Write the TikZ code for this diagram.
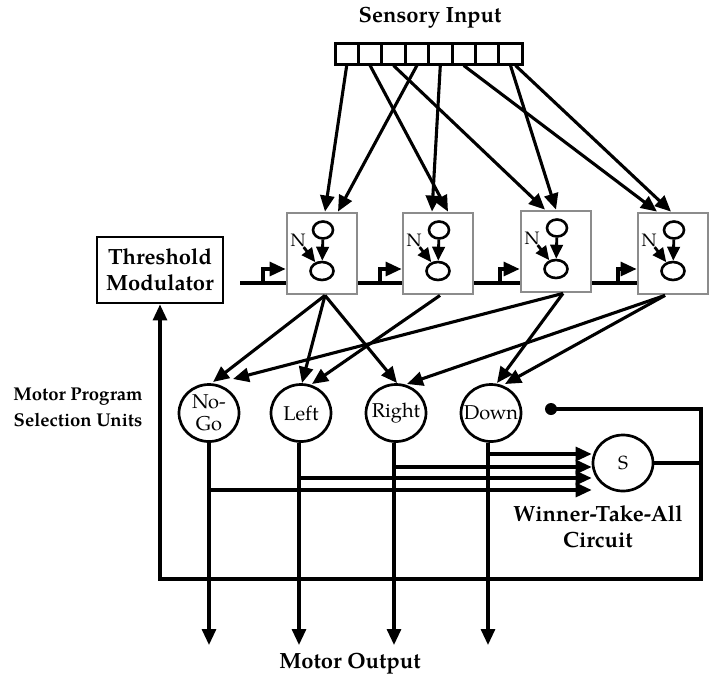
\documentclass[tikz,border=0pt]{standalone}
\usepackage{fontspec}
\setmainfont{TeX Gyre Pagella}
\usetikzlibrary{arrows.meta,shapes.geometric}
\definecolor{boxgray}{RGB}{140,140,140}
\begin{document}
\begin{tikzpicture}[x=1pt,y=-1pt,
  wire/.style={line width=3.1pt},
  arr/.style={line width=3.1pt,-{Triangle[length=16pt,width=14pt]}},
  smallarr/.style={line width=2.8pt,-{Triangle[length=14pt,width=12.5pt]}},
  modbox/.style={draw=boxgray,line width=2.8pt,fill=white,minimum width=70pt,minimum height=81pt,inner sep=0pt},
  topcell/.style={draw,ellipse,line width=2.6pt,minimum width=20pt,minimum height=17pt,inner sep=0pt},
  botcell/.style={draw,ellipse,line width=2.6pt,minimum width=23pt,minimum height=18pt,inner sep=0pt},
  unit/.style={draw,ellipse,line width=2.7pt,minimum width=60pt,minimum height=57pt,inner sep=0pt},
  unittext/.style={font=\fontsize{20}{21.5}\selectfont,align=center,inner sep=0pt},
  cell/.style={draw,line width=3pt,minimum width=23.4pt,minimum height=21pt,inner sep=0pt},
  heading/.style={font=\fontsize{22}{26.5}\selectfont\bfseries,align=center,inner sep=0pt},
]
\useasboundingbox (0,0) rectangle (710,678);

% sensory array
\node[heading] (sens) at (430,18) {Sensory Input};
\foreach \i in {0,...,7} \node[cell] (c\i) at ({346.7+23.4*\i},53.5) {};

% detector modules
\foreach \i/\cx/\cy in {1/322/253.5, 2/438/253.5, 3/556/251.5, 4/673/253.5}{
  \node[modbox] (b\i) at (\cx,\cy) {};
  \node[topcell] (b\i-t) at (\cx+1,\cy-23.5) {};
  \node[botcell] (b\i-b) at (\cx,\cy+17.5) {};
  \node[font=\fontsize{18}{18}\selectfont,inner sep=0pt] (n\i) at (\cx-24,\cy-13) {N};
  \draw[smallarr] (b\i-t) -- (b\i-b);
  \draw[smallarr] ([xshift=-2pt]n\i.south east) -- (b\i-b);
}

% threshold modulator
\node[draw,line width=2.8pt,minimum width=126pt,minimum height=66pt,heading] (tm) at (160,270) {Threshold\\Modulator};

% motor program selection units
\node[unit] (ung) at (209,413) {};
\node[unit] (ulf) at (301,413) {};
\node[unit] (urt) at (396,413) {};
\node[unit] (udn) at (491,413) {};
\node[unittext] at (ung) {No-\\Go};
\node[unittext] at (ulf) {Left};
\node[unittext] at (urt) {Right};
\node[unittext] at (udn) {Down};
\node[unit,minimum height=56pt] (wta) at (623,463) {};
\node[unittext,font=\fontsize{19}{19}\selectfont] at (wta) {S};
\node[circle,fill,inner sep=0pt,minimum size=12pt] (dot) at (551,409) {};

% labels
\node[heading,font=\fontsize{18.5}{26}\selectfont\bfseries] (mps) at (78,407) {Motor Program\\Selection Units};
\node[heading] (wtal) at (598,527) {Winner-Take-All\\Circuit};
\node[heading] (mout) at (350,664) {Motor Output};

% sensory projections
\draw[arr] (c0.south) -- ([xshift=3pt]b1.north);
\draw[arr] (c3.south) -- ([xshift=16pt]b1.north);
\draw[arr] (c4.south) -- ([xshift=-6pt]b2.north);
\draw[arr] (c1.south) -- ([xshift=10pt]b2.north);
\draw[arr] (c2.south) -- ([xshift=-11pt]b3.north);
\draw[arr] (c7.south) -- (b3.north);
\draw[arr] (c5.south) -- ([xshift=-16pt]b4.north);
\draw[arr] ([xshift=5pt]c7.south) -- ([xshift=-2pt]b4.north);

% threshold chain through the modules
\coordinate (tmo) at (240,283);
\draw[wire] (tmo) -- (tmo -| b1.west);
\draw[wire] (b1.east |- tmo) -- (b2.west |- tmo);
\draw[wire] (b2.east |- tmo) -- (b3.west |- tmo);
\draw[wire] (b3.east |- tmo) -- (b4.west |- tmo);
\coordinate (s1) at (263,283);
\coordinate (s2) at (380,283);
\coordinate (s3) at (500,283);
\coordinate (s4) at (618,283);
\draw[arr] (s1) |- (b1.west |- 0,269);
\draw[arr] (s2) |- (b2.west |- 0,269);
\draw[arr] (s3) |- (b3.west |- 0,269);
\draw[arr] (s4) |- (b4.west |- 0,269);

% module to unit projections
\coordinate (ng1) at (213,382);
\coordinate (ng2) at (233,379);
\coordinate (lf1) at (302,383);
\coordinate (lf2) at (312,384);
\coordinate (rt1) at (397,383);
\coordinate (rt2) at (407,384);
\coordinate (dn1) at (497,383);
\coordinate (dn2) at (505,384);
\draw[arr] ([xshift=3pt]b1.south) -- (ng1);
\draw[arr] ([xshift=3pt]b1.south) -- (lf1);
\draw[arr] ([xshift=3pt]b1.south) -- (rt1);
\draw[arr] ([xshift=2pt]b2.south) -- (lf2);
\draw[arr] ([xshift=7pt]b3.south) -- (ng2);
\draw[arr] ([xshift=7pt]b3.south) -- (dn1);
\draw[arr] ([xshift=-8pt]b4.south) -- (rt2);
\draw[arr] ([xshift=-8pt]b4.south) -- (dn2);

% motor outputs
\draw[arr] (ung) -- (ung |- 0,645);
\draw[arr] ([xshift=-2pt]ulf.south) -- ([xshift=-2pt]ulf.south |- 0,645);
\draw[arr] ([xshift=-2pt]urt.south) -- ([xshift=-2pt]urt.south |- 0,645);
\draw[arr] ([xshift=-3pt]udn.south) -- ([xshift=-3pt]udn.south |- 0,645);

% winner-take-all inputs
\coordinate (j1) at (ung |- 0,490);
\coordinate (j2) at ([xshift=-2pt]ulf.south |- 0,478);
\coordinate (j3) at ([xshift=-2pt]urt.south |- 0,467);
\coordinate (j4) at ([xshift=-3pt]udn.south |- 0,454);
\draw[arr] (j1) -- (j1 -| wta.west);
\draw[arr] (j2) -- (j2 -| wta.west);
\draw[arr] (j3) -- (j3 -| wta.west);
\draw[arr] (j4) -- (j4 -| wta.west);

% feedback to the threshold modulator
\coordinate (rail) at (701,579);
\draw[arr] (dot.center) -| (rail) -| (tm.south);
\draw[wire] (wta.east) -- (wta.east -| rail);
\end{tikzpicture}
\end{document}
